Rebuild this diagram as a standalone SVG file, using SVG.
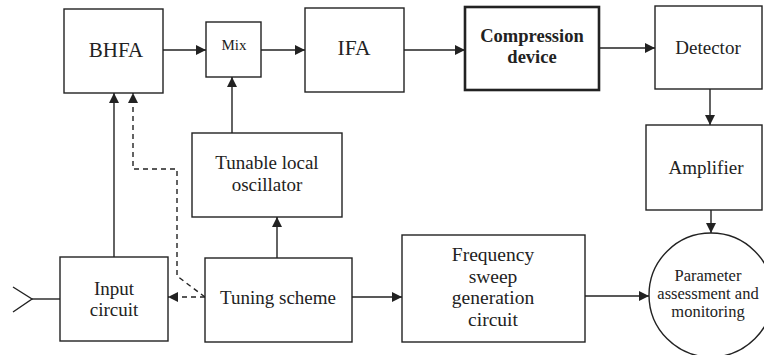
<svg xmlns="http://www.w3.org/2000/svg" width="764" height="355" viewBox="0 0 764 355" font-family="Liberation Serif, Times New Roman, serif">
  <style>
    .box { fill: #fff; stroke: #222; stroke-width: 1.4; }
    .thick { stroke-width: 2.6; }
    text { font-family: "Liberation Serif", "Times New Roman", Times, serif; fill: #222; text-anchor: middle; }
    .bold { font-weight: bold; }
    .wire { fill: none; stroke: #222; stroke-width: 1.4; }
    .dash { stroke-dasharray: 5 4; }
  </style>
  <defs>
    <marker id="arrow" viewBox="0 0 10 10" refX="10" refY="5" markerWidth="10" markerHeight="10" markerUnits="userSpaceOnUse" orient="auto">
      <path d="M0,0 L10,5 L0,10 Z" fill="#222"/>
    </marker>
  </defs>
  <rect width="764" height="355" fill="#fff"/>

  <!-- signal path and control connectors -->
  <g id="connectors">
    <line class="wire" x1="163" y1="50" x2="206" y2="50" marker-end="url(#arrow)"/>
    <line class="wire" x1="261" y1="50" x2="305" y2="50" marker-end="url(#arrow)"/>
    <line class="wire" x1="404" y1="50" x2="465" y2="50" marker-end="url(#arrow)"/>
    <line class="wire" x1="599" y1="48" x2="655" y2="48" marker-end="url(#arrow)"/>
    <line class="wire" x1="710" y1="89" x2="710" y2="125" marker-end="url(#arrow)"/>
    <line class="wire" x1="711" y1="210" x2="711" y2="233" marker-end="url(#arrow)"/>
    <line class="wire" x1="232" y1="133" x2="232" y2="77" marker-end="url(#arrow)"/>
    <line class="wire" x1="277" y1="258" x2="277" y2="217" marker-end="url(#arrow)"/>
    <line class="wire" x1="114" y1="257" x2="114" y2="93" marker-end="url(#arrow)"/>
    <line class="wire" x1="352" y1="297" x2="402" y2="297" marker-end="url(#arrow)"/>
    <line class="wire" x1="585" y1="296" x2="649" y2="296" marker-end="url(#arrow)"/>
    <polyline class="wire dash" points="205,297 177,276 177,169 133,169 133,93" marker-end="url(#arrow)"/>
    <line class="wire dash" x1="205" y1="297" x2="168" y2="297" marker-end="url(#arrow)"/>
    <!-- antenna input -->
    <polyline class="wire" points="13,287 32,299 13,312"/>
    <line class="wire" x1="32" y1="299" x2="60" y2="299"/>
  </g>

  <g id="bhfa">
    <rect class="box" x="64" y="9" width="99" height="84"/>
    <text x="116" y="57" font-size="21">BHFA</text>
  </g>
  <g id="mix">
    <rect class="box" x="206" y="22" width="55" height="55"/>
    <text x="234" y="50" font-size="15">Mix</text>
  </g>
  <g id="ifa">
    <rect class="box" x="305" y="8" width="99" height="84"/>
    <text x="354" y="55" font-size="21.5">IFA</text>
  </g>
  <g id="compression">
    <rect class="box thick" x="465" y="7" width="134" height="83"/>
    <text class="bold" x="532" y="42" font-size="18.5">Compression</text>
    <text class="bold" x="532" y="63" font-size="18.5">device</text>
  </g>
  <g id="detector">
    <rect class="box" x="655" y="6" width="107" height="83"/>
    <text x="708" y="54" font-size="19">Detector</text>
  </g>
  <g id="amplifier">
    <rect class="box" x="646" y="125" width="116" height="85"/>
    <text x="706" y="174" font-size="19">Amplifier</text>
  </g>
  <g id="local-oscillator">
    <rect class="box" x="192" y="133" width="150" height="84"/>
    <text x="267" y="169" font-size="19">Tunable local</text>
    <text x="267" y="191" font-size="19">oscillator</text>
  </g>
  <g id="input-circuit">
    <rect class="box" x="60" y="257" width="108" height="84"/>
    <text x="114" y="295" font-size="19">Input</text>
    <text x="114" y="316" font-size="19">circuit</text>
  </g>
  <g id="tuning-scheme">
    <rect class="box" x="205" y="258" width="147" height="84"/>
    <text x="278" y="304" font-size="19">Tuning scheme</text>
  </g>
  <g id="sweep-generator">
    <rect class="box" x="402" y="235" width="183" height="107"/>
    <text x="493" y="261" font-size="19.5">Frequency</text>
    <text x="493" y="283" font-size="19.5">sweep</text>
    <text x="493" y="304" font-size="19.5">generation</text>
    <text x="493" y="326" font-size="19.5">circuit</text>
  </g>
  <g id="assessment">
    <circle class="box" cx="711" cy="295" r="62"/>
    <text x="708" y="281" font-size="16.5">Parameter</text>
    <text x="708" y="299" font-size="16.5">assessment and</text>
    <text x="708" y="317" font-size="16.5">monitoring</text>
  </g>
</svg>
